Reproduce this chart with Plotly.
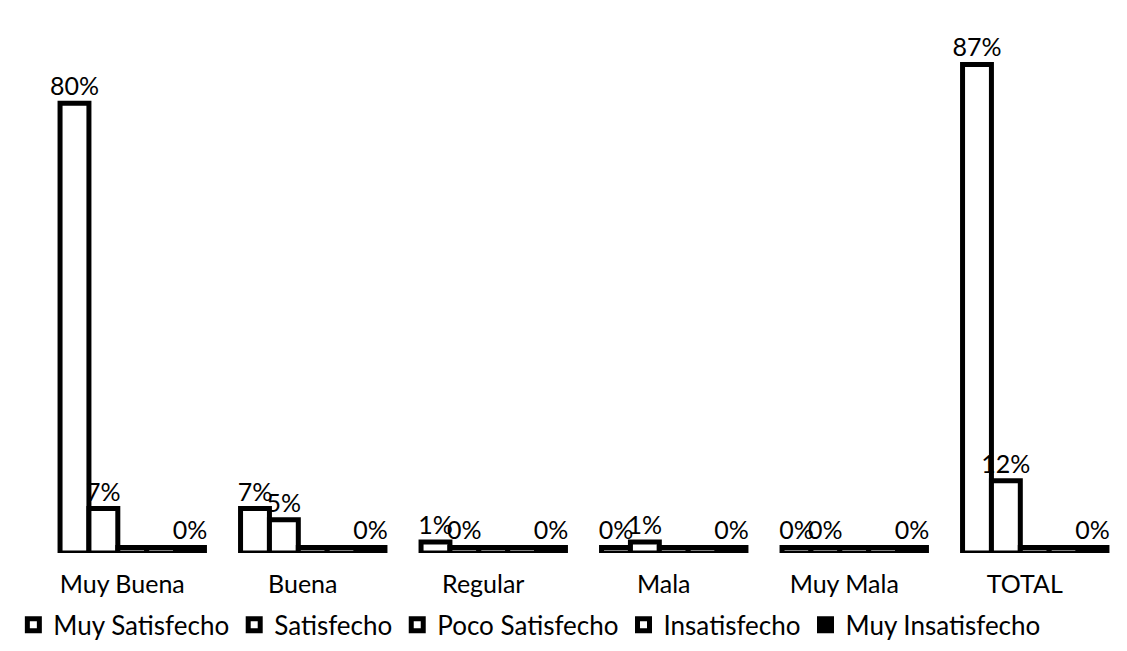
import plotly.graph_objects as go

categorias = ["Muy Buena", "Buena", "Regular", "Mala", "Muy Mala", "TOTAL"]

muy_satisfecho = [0.80, 0.07, 0.01, 0.00, 0.00, 0.87]
satisfecho = [0.07, 0.05, 0.00, 0.01, 0.00, 0.12]
poco_satisfecho = [0.00, 0.00, 0.00, 0.00, 0.00, 0.00]
insatisfecho = [0.00, 0.00, 0.00, 0.00, 0.00, 0.00]
muy_insatisfecho = [0.00, 0.00, 0.00, 0.00, 0.00, 0.00]

series = [
    ("Muy Satisfecho", muy_satisfecho, "white", True),
    ("Satisfecho", satisfecho, "white", True),
    ("Poco Satisfecho", poco_satisfecho, "white", False),
    ("Insatisfecho", insatisfecho, "white", False),
    ("Muy Insatisfecho", muy_insatisfecho, "black", True),
]

fuente = "Lato"
# grosor del "piso" de las barras 3D, para que las de 0% se vean como losa
espesor = 0.010

fig = go.Figure()
for nombre, valores, relleno, etiqueta in series:
    fig.add_trace(go.Bar(
        name=nombre,
        x=categorias,
        y=[v + espesor for v in valores],
        base=-espesor,
        marker=dict(color=relleno, line=dict(color="black", width=5)),
        text=[f"{v:.0%}" for v in valores] if etiqueta else None,
        textposition="outside" if etiqueta else "none",
        textfont=dict(size=25, color="black", family=fuente),
        constraintext="none",
        cliponaxis=False,
        hovertemplate="%{x}: " + "%{text}<extra>" + nombre + "</extra>",
    ))

fig.update_layout(
    barmode="group",
    bargap=0.2,
    bargroupgap=0,
    width=1127,
    height=651,
    margin=dict(l=34, r=10, t=12, b=106, autoexpand=False),
    plot_bgcolor="white",
    paper_bgcolor="white",
    font=dict(family=fuente, size=25, color="black"),
    showlegend=True,
    legend=dict(
        orientation="h",
        x=0.45,
        xanchor="center",
        y=-0.135,
        yanchor="middle",
        font=dict(size=26),
        itemwidth=30,
    ),
)
fig.update_xaxes(
    showline=False,
    showgrid=False,
    ticks="",
    ticklabelstandoff=14,
    ticklabelshift=-10,
    tickangle=0,
    tickfont=dict(size=25),
)
fig.update_yaxes(
    visible=False,
    range=[-espesor, 0.95],
)

fig.write_html("out.html")
